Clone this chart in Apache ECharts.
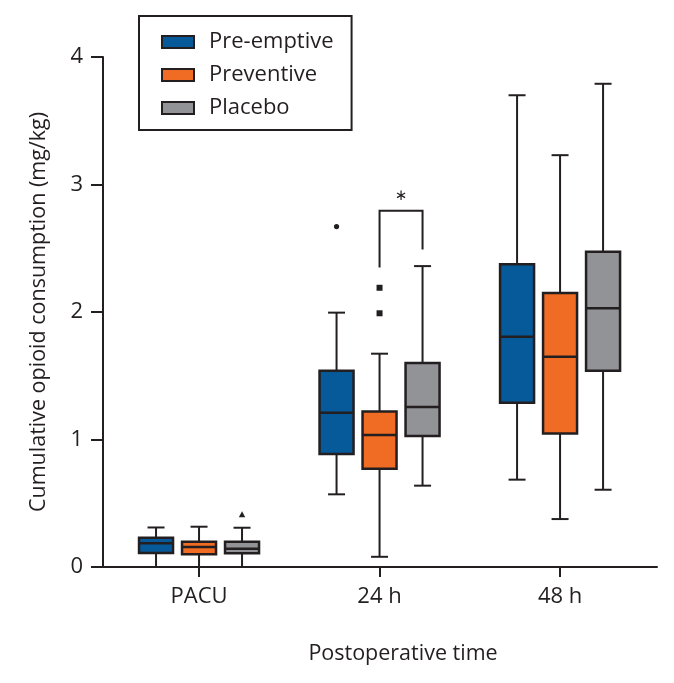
<!DOCTYPE html>
<html>
<head>
<meta charset="utf-8">
<script src="https://cdn.jsdelivr.net/npm/echarts@6/dist/echarts.min.js"></script>
<style>
html,body{margin:0;padding:0;background:#fff;}
#chart{width:674px;height:683px;}
</style>
</head>
<body>
<div id="chart"></div>
<script>
// ---- data ----
const categories = ['PACU', '24 h', '48 h'];
const groups = ['Pre-emptive', 'Preventive', 'Placebo'];
// [min, Q1, median, Q3, max] per category
const preEmptive = [[0, 0.11, 0.186, 0.23, 0.31], [0.57, 0.886, 1.21, 1.54, 1.995], [0.685, 1.289, 1.806, 2.374, 3.70]];
const preventive = [[0, 0.10, 0.157, 0.198, 0.316], [0.08, 0.771, 1.035, 1.22, 1.673], [0.376, 1.048, 1.65, 2.15, 3.23]];
const placebo = [[0, 0.107, 0.144, 0.198, 0.308], [0.638, 1.027, 1.255, 1.60, 2.36], [0.606, 1.54, 2.03, 2.473, 3.79]];
// [categoryIndex, value]
const preEmptiveOutliers = [[1, 2.67]];
const preventiveOutliers = [[1, 2.19], [1, 1.99]];
const placeboOutliers = [[0, 0.41]];
// significance bracket: [categoryIndex, left end, top, right end, star]
const bracket = [[1, 2.35, 2.795, 2.49, 2.91]];
const yTicks = [0, 1, 2, 3, 4];

// ---- style ----
const FONT = 'Open Sans';
const INK = '#231f20';
const COLORS = ['#075a9a', '#f06b23', '#929397'];
const OFFSETS = [-43, 0, 43];
const BOX_W = 34, CAP_W = 17;

function boxRender(offset, color) {
  return function (params, api) {
    const c = api.value(0);
    const py = v => api.coord([c, v])[1];
    const x = api.coord([c, 0])[0] + offset;
    const yMin = py(api.value(1)), yQ1 = py(api.value(2)), yMed = py(api.value(3)),
          yQ3 = py(api.value(4)), yMax = py(api.value(5));
    const ls = { stroke: INK, lineWidth: 2 };
    return {
      type: 'group', children: [
        { type: 'line', shape: { x1: x, y1: yQ3, x2: x, y2: yMax }, style: ls },
        { type: 'line', shape: { x1: x - CAP_W / 2, y1: yMax, x2: x + CAP_W / 2, y2: yMax }, style: ls },
        { type: 'line', shape: { x1: x, y1: yQ1, x2: x, y2: yMin }, style: ls },
        { type: 'line', shape: { x1: x - CAP_W / 2, y1: yMin, x2: x + CAP_W / 2, y2: yMin }, style: ls },
        { type: 'rect', shape: { x: x - BOX_W / 2, y: yQ3, width: BOX_W, height: yQ1 - yQ3 }, style: { fill: color, stroke: INK, lineWidth: 2.5 } },
        { type: 'line', shape: { x1: x - BOX_W / 2, y1: yMed, x2: x + BOX_W / 2, y2: yMed }, style: { stroke: INK, lineWidth: 2.5 } }
      ]
    };
  };
}

function outlierRender(offset, kind) {
  return function (params, api) {
    const p = api.coord([api.value(0), api.value(1)]);
    const x = p[0] + offset, y = p[1];
    if (kind === 'circle') return { type: 'circle', shape: { cx: x, cy: y, r: 2.6 }, style: { fill: INK } };
    if (kind === 'rect') return { type: 'rect', shape: { x: x - 3, y: y - 3, width: 6, height: 6 }, style: { fill: INK } };
    return { type: 'polygon', shape: { points: [[x, y - 3.5], [x - 3.2, y + 2.5], [x + 3.2, y + 2.5]] }, style: { fill: INK } };
  };
}

function bracketRender(params, api) {
  const c = api.value(0);
  const x0 = api.coord([c, 0])[0];
  const xL = x0 + OFFSETS[1], xR = x0 + OFFSETS[2];
  const py = v => api.coord([c, v])[1];
  return {
    type: 'group', children: [
      { type: 'polyline', shape: { points: [[xL, py(api.value(1))], [xL, py(api.value(2))], [xR, py(api.value(2))], [xR, py(api.value(3))]] },
        style: { stroke: INK, lineWidth: 2, fill: null } },
      { type: 'text', x: (xL + xR) / 2, y: py(api.value(4)),
        style: { text: '∗', font: '15px "DejaVu Sans"', fill: INK, align: 'center', verticalAlign: 'middle' } }
    ]
  };
}

const groupData = [preEmptive, preventive, placebo];
const outlierData = [preEmptiveOutliers, preventiveOutliers, placeboOutliers];
const outlierKinds = ['circle', 'rect', 'triangle'];

const series = [];
groups.forEach((g, i) => {
  series.push({
    name: g, type: 'custom', clip: false,
    itemStyle: { color: COLORS[i] },
    encode: { x: 0, y: [1, 2, 3, 4, 5] },
    data: groupData[i].map((d, k) => [k].concat(d)),
    renderItem: boxRender(OFFSETS[i], COLORS[i])
  });
});
groups.forEach((g, i) => {
  series.push({
    name: g + ' outliers', type: 'custom', clip: false,
    encode: { x: 0, y: 1 },
    data: outlierData[i],
    renderItem: outlierRender(OFFSETS[i], outlierKinds[i])
  });
});
series.push({
  name: 'significance', type: 'custom', clip: false,
  encode: { x: 0, y: [1, 2, 3, 4] },
  data: bracket,
  renderItem: bracketRender
});

const chart = echarts.init(document.getElementById('chart'), null, { renderer: 'canvas' });
chart.setOption({
  animation: false,
  backgroundColor: '#fff',
  textStyle: { fontFamily: FONT, color: INK },
  grid: { left: 103, right: 17, top: 57, bottom: 116, containLabel: false },
  legend: {
    orient: 'vertical', left: 139, top: 16,
    padding: [15, 18, 11, 22],
    itemWidth: 32, itemHeight: 12, itemGap: 11,
    borderColor: INK, borderWidth: 2,
    selectedMode: false,
    textStyle: { fontFamily: FONT, fontSize: 22, color: INK, lineHeight: 22, padding: [0, 0, 0, 10] },
    data: groups.map((g, i) => ({ name: g, icon: 'rect', itemStyle: { color: COLORS[i], borderColor: INK, borderWidth: 2 } }))
  },
  xAxis: {
    type: 'value', min: -0.532, max: 2.537,
    name: 'Postoperative time', nameLocation: 'middle', nameGap: 76,
    nameTextStyle: { fontFamily: FONT, fontSize: 21.5, color: INK, padding: [0, 0, 0, 46] },
    axisLine: { show: true, lineStyle: { color: INK, width: 2 } },
    axisTick: { show: true, length: 10, customValues: [0, 1, 2], lineStyle: { color: INK, width: 2 } },
    axisLabel: { customValues: [0, 1, 2], formatter: v => categories[Math.round(v)], fontFamily: FONT, fontSize: 22, color: INK, margin: 19 },
    splitLine: { show: false }
  },
  yAxis: {
    type: 'value', min: yTicks[0], max: yTicks[yTicks.length - 1], interval: 1,
    name: 'Cumulative opioid consumption (mg/kg)', nameLocation: 'middle', nameGap: 53,
    nameTextStyle: { fontFamily: FONT, fontSize: 21.5, color: INK },
    axisLine: { show: true, onZero: false, lineStyle: { color: INK, width: 2 } },
    axisTick: { show: true, length: 12, lineStyle: { color: INK, width: 2 } },
    axisLabel: { fontFamily: FONT, fontSize: 22, color: INK, margin: 20 },
    splitLine: { show: false }
  },
  series: series
});
</script>
</body>
</html>
